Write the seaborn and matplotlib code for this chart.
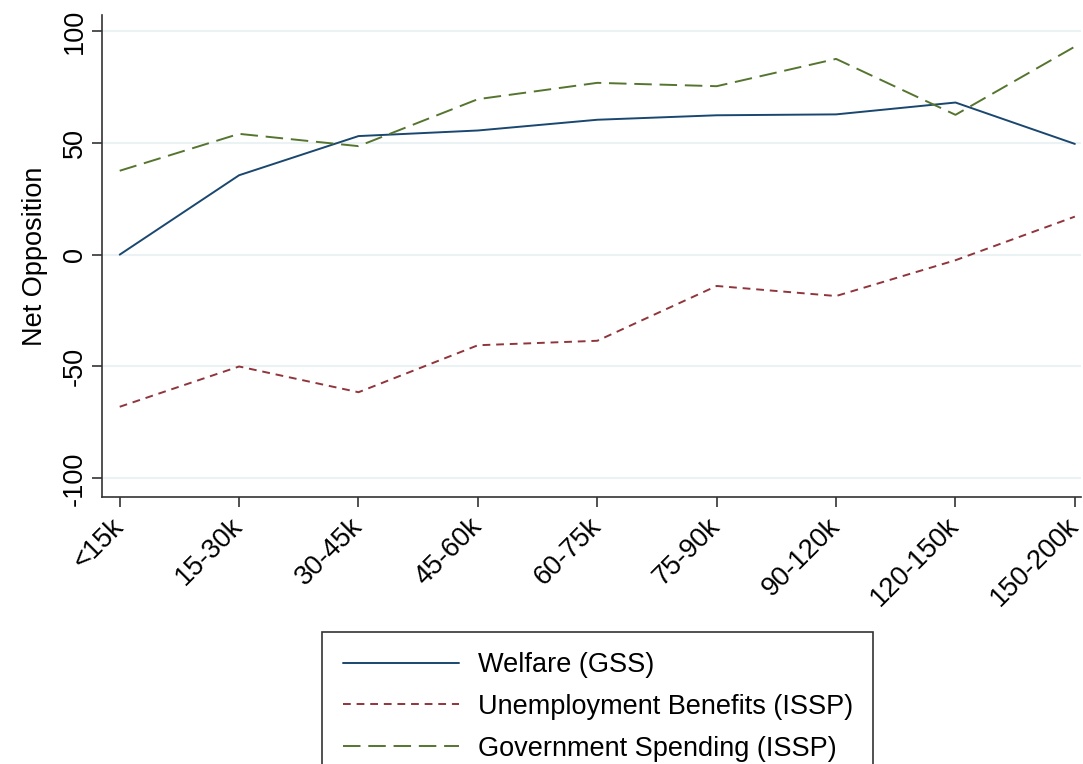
import matplotlib
matplotlib.use("Agg")
import matplotlib.pyplot as plt
import seaborn as sns
import pandas as pd
from matplotlib.lines import Line2D

categories = ["<15k", "15-30k", "30-45k", "45-60k", "60-75k", "75-90k", "90-120k", "120-150k", "150-200k"]
welfare = [0.0, 35.5, 53.0, 55.5, 60.3, 62.3, 62.7, 68.0, 49.5]
unemployment = [-68.0, -50.0, -61.5, -40.5, -38.5, -14.0, -18.5, -2.5, 17.0]
gov_spending = [37.5, 54.0, 48.5, 69.5, 76.8, 75.3, 87.5, 62.5, 93.0]
series_names = ["Welfare (GSS)", "Unemployment Benefits (ISSP)", "Government Spending (ISSP)"]
yticks = [-100, -50, 0, 50, 100]

rows = []
for name, vals in zip(series_names, [welfare, unemployment, gov_spending]):
    for i, v in enumerate(vals):
        rows.append({"x": i, "value": v, "series": name})
df = pd.DataFrame(rows)

sns.set_theme(style="white")
plt.rcParams['font.family'] = ['Liberation Sans', 'DejaVu Sans']
plt.rcParams['text.color'] = 'black'
plt.rcParams['axes.labelcolor'] = 'black'
plt.rcParams['xtick.color'] = 'black'
plt.rcParams['ytick.color'] = 'black'

FS = 19.5

fig = plt.figure(figsize=(10.83, 7.64), dpi=100)
ax = fig.add_axes([0.094, 0.349, 0.904, 0.631])

palette = {series_names[0]: "#1a476f", series_names[1]: "#90353b", series_names[2]: "#55752f"}
dashes = {series_names[0]: "", series_names[1]: (4, 3), series_names[2]: (9, 4)}
sns.lineplot(data=df, x="x", y="value", hue="series", style="series",
             palette=palette, dashes=dashes, linewidth=1.4, ax=ax, legend=False)

ax.set_xlim(-0.15, 8.05)
ax.set_ylim(-108.5, 107)
ax.set_yticks(yticks)
ax.set_yticklabels([str(t) for t in yticks], rotation=90, va="center", fontsize=FS)
ax.set_xticks(range(len(categories)))
ax.set_xticklabels(categories, rotation=45, ha="right", va="center",
                   rotation_mode="anchor", fontsize=FS)
ax.set_xlabel("")
ax.set_ylabel("Net Opposition", fontsize=FS, labelpad=10)
ax.grid(axis="y", color="#eaf2f3", linewidth=1.5)
ax.grid(axis="x", visible=False)
for s in ["top", "right"]:
    ax.spines[s].set_visible(False)
for s in ["left", "bottom"]:
    ax.spines[s].set_color("#333333")
    ax.spines[s].set_linewidth(1.2)
ax.tick_params(axis="both", which="both", direction="out", length=7, width=1.2,
               color="#333333", left=True, bottom=True, pad=3)
ax.tick_params(axis="x", pad=11)

handles = [Line2D([], [], color=palette[n], linewidth=1.4,
                  linestyle="-" if dashes[n] == "" else (0, dashes[n])) for n in series_names]
leg = fig.legend(handles, series_names, loc="upper center", bbox_to_anchor=(0.552, 0.173),
                 ncol=1, fontsize=FS, frameon=True, fancybox=False, edgecolor="black",
                 handlelength=4.3, handletextpad=0.7, labelspacing=0.58, borderpad=0.75,
                 borderaxespad=0)
leg.get_frame().set_linewidth(1.2)

fig.savefig("out.png", dpi=100)
